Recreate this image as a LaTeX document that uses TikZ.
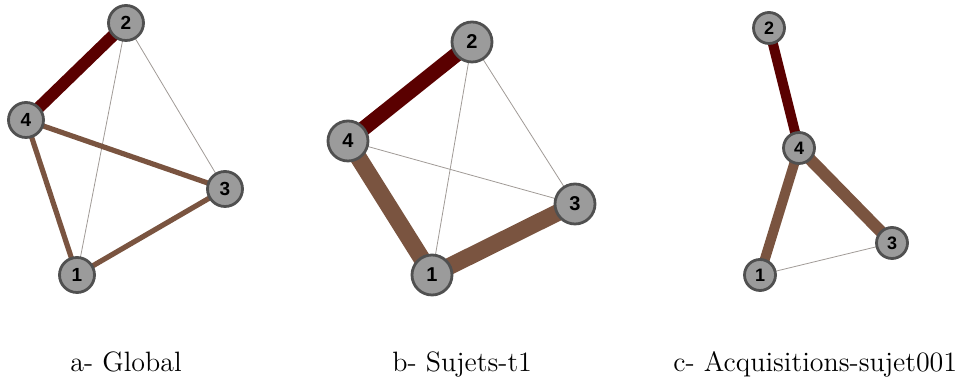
\documentclass[tikz,border=0pt]{standalone}
\usepackage{fontspec}
\newfontfamily\numfont{Liberation Sans}
\usetikzlibrary{backgrounds}
\definecolor{nodefill}{HTML}{9B9B9B}
\definecolor{nodeline}{HTML}{505050}
\definecolor{darkred}{HTML}{5A0000}
\definecolor{brownedge}{HTML}{7A5440}
\definecolor{thinedge}{HTML}{A09A96}
\tikzset{
  vtx/.style={circle, fill=nodefill, draw=nodeline, line width=1.4pt, inner sep=0pt, font=\numfont\bfseries},
  vtxa/.style={vtx, minimum size=17.5pt, font=\numfont\bfseries\fontsize{9.5}{11}\selectfont},
  vtxb/.style={vtx, minimum size=20pt, font=\numfont\bfseries\fontsize{10}{12}\selectfont},
  vtxc/.style={vtx, minimum size=15.5pt, font=\numfont\bfseries\fontsize{9}{11}\selectfont},
  thin edge/.style={draw=thinedge, line width=0.4pt},
  caption/.style={anchor=base west, inner sep=0pt, font=\fontsize{14}{17}\selectfont}
}
\begin{document}
\begin{tikzpicture}[x=0.5pt, y=-0.5pt]
\useasboundingbox (0,0) rectangle (974,383);
% panel a
\node[vtxa] (a2) at (126,23) {2};
\node[vtxa] (a4) at (26,120) {4};
\node[vtxa] (a3) at (225,189) {3};
\node[vtxa] (a1) at (77,275) {1};
% panel b
\node[vtxb] (b2) at (472,42) {2};
\node[vtxb] (b4) at (348,141) {4};
\node[vtxb] (b3) at (575,204) {3};
\node[vtxb] (b1) at (432,275) {1};
% panel c
\node[vtxc] (c2) at (769,28) {2};
\node[vtxc] (c4) at (799,148) {4};
\node[vtxc] (c3) at (892,243) {3};
\node[vtxc] (c1) at (760,275) {1};
\begin{scope}[on background layer]
  % a
  \draw[thin edge] (a2.center) -- (a1.center);
  \draw[thin edge] (a2.center) -- (a3.center);
  \draw[draw=darkred, line width=6pt] (a2.center) -- (a4.center);
  \draw[draw=brownedge, line width=2.6pt] (a4.center) -- (a3.center);
  \draw[draw=brownedge, line width=2.6pt] (a4.center) -- (a1.center);
  \draw[draw=brownedge, line width=2.6pt] (a1.center) -- (a3.center);
  % b
  \draw[thin edge] (b2.center) -- (b1.center);
  \draw[thin edge] (b2.center) -- (b3.center);
  \draw[thin edge] (b4.center) -- (b3.center);
  \draw[draw=darkred, line width=7.5pt] (b2.center) -- (b4.center);
  \draw[draw=brownedge, line width=8.5pt] (b4.center) -- (b1.center);
  \draw[draw=brownedge, line width=8.5pt] (b1.center) -- (b3.center);
  % c
  \draw[thin edge] (c1.center) -- (c3.center);
  \draw[draw=darkred, line width=5pt] (c2.center) -- (c4.center);
  \draw[draw=brownedge, line width=5pt] (c4.center) -- (c1.center);
  \draw[draw=brownedge, line width=6pt] (c4.center) -- (c3.center);
\end{scope}
\node[caption] (capa) at (70,372) {a- Global};
\node[caption] (capb) at (392,372) {b- Sujets-t1};
\node[caption] (capc) at (673,372) {c- Acquisitions-sujet001};
\end{tikzpicture}
\end{document}
